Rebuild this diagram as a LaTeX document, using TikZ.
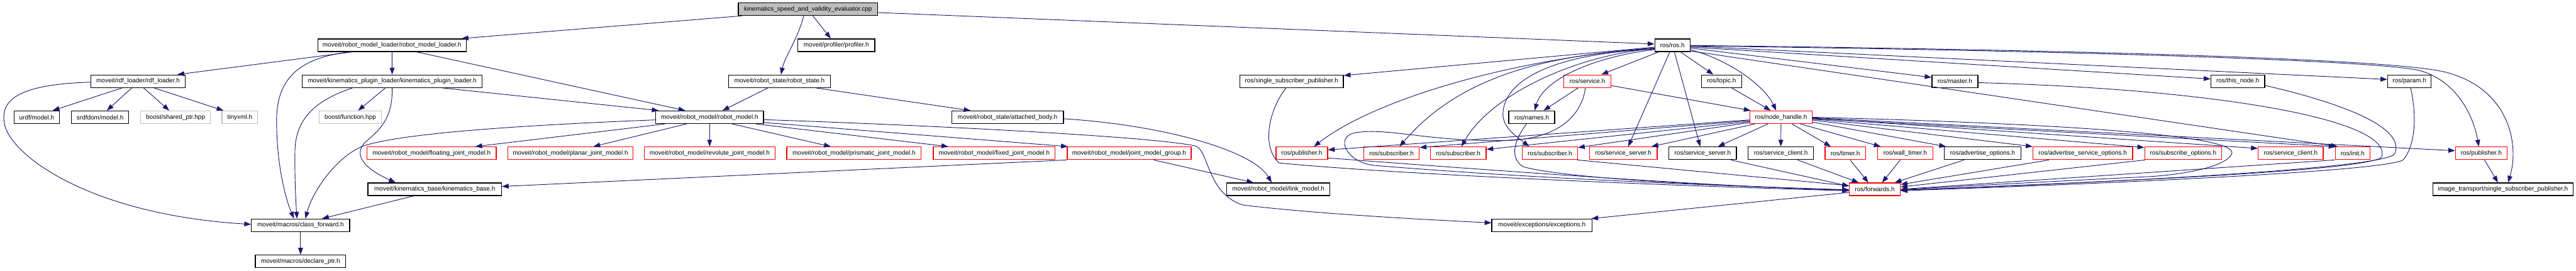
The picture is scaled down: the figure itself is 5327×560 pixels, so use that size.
\documentclass[tikz,border=0pt]{standalone}
\usepackage{fontspec}
\newfontfamily\dfont{Liberation Sans}
\usetikzlibrary{arrows.meta}
\definecolor{edgec}{HTML}{191970}
\definecolor{boxred}{HTML}{FF0000}
\definecolor{boxgray}{HTML}{BFBFBF}
\begin{document}
\begin{tikzpicture}[x=0.5pt,y=-0.5pt,
  nbox/.style={draw=black,fill=white,line width=0.85pt,minimum height=13pt,inner sep=0pt,font=\dfont\fontsize{6.5pt}{7pt}\selectfont,text=black},
  rnbox/.style={nbox,draw=boxred},
  gnbox/.style={nbox,draw=boxgray},
  tnbox/.style={nbox,fill=boxgray},
  dep/.style={draw=edgec,line width=0.6pt,-{Triangle[length=7pt,width=5pt]}}]
\useasboundingbox (0,0) rectangle (5327,560);
% row 0
\node[tnbox,minimum width=144pt] (top) at (1671,19) {kinematics\_speed\_and\_validity\_evaluator.cpp};
% row 1
\node[nbox,minimum width=153.5pt] (rml) at (810.5,93.5) {moveit/robot\_model\_loader/robot\_model\_loader.h};
\node[nbox,minimum width=79.5pt] (prof) at (1729.5,93.5) {moveit/profiler/profiler.h};
\node[nbox,minimum width=36.5pt] (rosh) at (3458.5,93.5) {ros/ros.h};
% row 2
\node[nbox,minimum width=97.5pt] (rdf) at (285.5,168) {moveit/rdf\_loader/rdf\_loader.h};
\node[nbox,minimum width=186pt] (kpl) at (811,168) {moveit/kinematics\_plugin\_loader/kinematics\_plugin\_loader.h};
\node[nbox,minimum width=105pt] (rstate) at (1612,168) {moveit/robot\_state/robot\_state.h};
\node[nbox,minimum width=107pt] (ssp) at (2671,168) {ros/single\_subscriber\_publisher.h};
\node[rnbox,minimum width=48.5pt] (service) at (3282.5,168) {ros/service.h};
\node[nbox,minimum width=41.75pt] (topic) at (3560,168) {ros/topic.h};
\node[nbox,minimum width=47.5pt] (master) at (4042.5,168) {ros/master.h};
\node[nbox,minimum width=55.5pt] (thisnode) at (4627.5,168) {ros/this\_node.h};
\node[nbox,minimum width=45pt] (param) at (4982.5,168) {ros/param.h};
% row 3
\node[nbox,minimum width=47pt] (urdf) at (76,242.5) {urdf/model.h};
\node[nbox,minimum width=59pt] (srdf) at (207,242.5) {srdfdom/model.h};
\node[gnbox,minimum width=72pt] (bsp) at (363,242.5) {boost/shared\_ptr.hpp};
\node[gnbox,minimum width=37pt] (tinyxml) at (496,242.5) {tinyxml.h};
\node[gnbox,minimum width=64.5pt] (bfun) at (724.5,242.5) {boost/function.hpp};
\node[nbox,minimum width=111.5pt] (rmodel) at (1467.5,242.5) {moveit/robot\_model/robot\_model.h};
\node[nbox,minimum width=115.5pt] (attached) at (2083.5,242.5) {moveit/robot\_state/attached\_body.h};
\node[nbox,minimum width=47.5pt] (names) at (3167.5,242.5) {ros/names.h};
\node[rnbox,minimum width=64pt] (nh) at (3683,242.5) {ros/node\_handle.h};
% row 4
\node[rnbox,minimum width=133.5pt] (floating) at (892.5,317) {moveit/robot\_model/floating\_joint\_model.h};
\node[rnbox,minimum width=129.5pt] (planar) at (1179.5,317) {moveit/robot\_model/planar\_joint\_model.h};
\node[rnbox,minimum width=135.5pt] (revolute) at (1467.5,317) {moveit/robot\_model/revolute\_joint\_model.h};
\node[rnbox,minimum width=139pt] (prismatic) at (1766,317) {moveit/robot\_model/prismatic\_joint\_model.h};
\node[rnbox,minimum width=126pt] (fixed) at (2056,317) {moveit/robot\_model/fixed\_joint\_model.h};
\node[rnbox,minimum width=128pt] (jmg) at (2335,317) {moveit/robot\_model/joint\_model\_group.h};
\node[rnbox,minimum width=53.25pt] (pub1) at (2692,317) {ros/publisher.h};
\node[rnbox,minimum width=57.5pt] (sub1) at (2877.5,317) {ros/subscriber.h};
\node[rnbox,minimum width=57.5pt] (sub2) at (3015.5,317) {ros/subscriber.h};
\node[rnbox,minimum width=57.25pt] (sub3) at (3205,317) {ros/subscriber.h};
\node[rnbox,minimum width=70pt] (ss1) at (3357,317) {ros/service\_server.h};
\node[nbox,minimum width=69.75pt] (ss2) at (3521,317) {ros/service\_server.h};
\node[nbox,minimum width=67.5pt] (sc1) at (3682.5,317) {ros/service\_client.h};
\node[rnbox,minimum width=42pt] (timer) at (3816,317) {ros/timer.h};
\node[rnbox,minimum width=57pt] (walltimer) at (3940,317) {ros/wall\_timer.h};
\node[nbox,minimum width=79pt] (advopt) at (4100,317) {ros/advertise\_options.h};
\node[rnbox,minimum width=103pt] (advsrvopt) at (4307,317) {ros/advertise\_service\_options.h};
\node[rnbox,minimum width=79.5pt] (subopt) at (4514.5,317) {ros/subscribe\_options.h};
\node[rnbox,minimum width=67.25pt] (sc2) at (4737,317) {ros/service\_client.h};
\node[rnbox,minimum width=35.75pt] (init) at (4865,317) {ros/init.h};
\node[rnbox,minimum width=53.25pt] (pub2) at (5131,317) {ros/publisher.h};
% row 5
\node[nbox,minimum width=138pt] (kbase) at (899,391.5) {moveit/kinematics\_base/kinematics\_base.h};
\node[nbox,minimum width=106.5pt] (link) at (2643.5,391.5) {moveit/robot\_model/link\_model.h};
\node[rnbox,minimum width=52.5pt] (fwd) at (3877,391.5) {ros/forwards.h};
\node[nbox,minimum width=145pt] (itssp) at (5176,391.5) {image\_transport/single\_subscriber\_publisher.h};
% row 6
\node[nbox,minimum width=101.5pt] (cfwd) at (621.5,466) {moveit/macros/class\_forward.h};
\node[nbox,minimum width=103.5pt] (exc) at (3188.5,466) {moveit/exceptions/exceptions.h};
% row 7
\node[nbox,minimum width=93.5pt] (decl) at (621.5,540.5) {moveit/macros/declare\_ptr.h};

% ---- edges: top
\draw[dep] ([xshift=-68.5pt]top.south) -- ([xshift=72pt]rml.north);
\draw[dep] ([xshift=-4.5pt]top.south) .. controls (1650,80) and (1622,120) .. ([xshift=1.5pt]rstate.north);
\draw[dep] ([xshift=5pt]top.south) -- ([xshift=-5.75pt]prof.north);
\draw[dep] ([yshift=-3.5pt]top.east) -- ([yshift=1.25pt]rosh.west);
% rml
\draw[dep] ([xshift=-40.75pt]rml.south) -- ([xshift=40.75pt]rdf.north);
\draw[dep] ([xshift=-42.25pt]rml.south) .. controls (600,120) and (572,180) .. (572,250) .. controls (572,340) and (590,410) .. ([xshift=-6.75pt]cfwd.north);
\draw[dep] (rml) -- (kpl);
\draw[dep] ([xshift=25.25pt]rml.south) -- ([xshift=-25.25pt]rmodel.north);
% rdf
\draw[dep] ([xshift=-16.5pt]rdf.south) -- ([xshift=16.5pt]urdf.north);
\draw[dep] ([xshift=-6.5pt]rdf.south) -- ([xshift=7pt]srdf.north);
\draw[dep] ([xshift=5.75pt]rdf.south) -- ([xshift=-6.5pt]bsp.north);
\draw[dep] ([xshift=16.5pt]rdf.south) -- ([xshift=-17pt]tinyxml.north);
\draw[dep] ([yshift=-1pt]rdf.west) .. controls (20,175) and (0,215) .. (10,260) .. controls (30,330) and (200,445) .. ([yshift=1pt]cfwd.west);
% kpl
\draw[dep] ([xshift=-41pt]kpl.south) .. controls (660,205) and (612,240) .. (610,310) .. controls (609,370) and (612,420) .. ([xshift=-3.75pt]cfwd.north);
\draw[dep] ([xshift=-7pt]kpl.south) -- ([xshift=8pt]bfun.north);
\draw[dep] (kpl.south) .. controls (812,240) and (790,265) .. (760,290) .. controls (735,310) and (735,340) .. ([xshift=-40.5pt]kbase.north);
\draw[dep] ([xshift=51.7pt]kpl.south) -- ([xshift=-52.75pt]rmodel.north);
% rstate
\draw[dep] ([xshift=-12pt]rstate.south) -- ([xshift=13.25pt]rmodel.north);
\draw[dep] ([xshift=37.3pt]rstate.south) -- ([xshift=-38.25pt]attached.north);
% rmodel
\draw[dep] ([yshift=-2.75pt]rmodel.west) .. controls (1100,258) and (820,275) .. (746,304) .. controls (690,330) and (645,400) .. ([xshift=5pt]cfwd.north);
\draw[dep] ([xshift=-46.25pt]rmodel.south) -- ([xshift=45.25pt]floating.north);
\draw[dep] ([xshift=-24pt]rmodel.south) -- ([xshift=23.75pt]planar.north);
\draw[dep] (rmodel) -- (revolute);
\draw[dep] ([xshift=23.25pt]rmodel.south) -- ([xshift=-24pt]prismatic.north);
\draw[dep] ([xshift=47.75pt]rmodel.south) -- ([xshift=-47.5pt]fixed.north);
\draw[dep] ([yshift=-5.5pt]rmodel.east) -- ([xshift=1pt]jmg.north west);
\draw[dep] ([yshift=-2.5pt]rmodel.east) .. controls (2000,262) and (2400,285) .. (2472,302) .. controls (2500,310) and (2495,400) .. (2570,424) .. controls (2700,440) and (2900,452) .. ([yshift=2.5pt]exc.west);
% jmg, attached, kbase, cfwd
\draw[dep] (jmg.south west) -- ([yshift=2.9pt]kbase.east);
\draw[dep] ([xshift=25.35pt]jmg.south) -- ([xshift=-25.75pt]link.north);
\draw[dep] ([yshift=-1.6pt]attached.east) .. controls (2400,258) and (2590,310) .. ([xshift=-6.9pt]link.north);
\draw[dep] ([xshift=-22pt]kbase.south) -- ([xshift=22.25pt]cfwd.north);
\draw[dep] (cfwd) -- (decl);
% ros.h
\draw[dep] ([yshift=-2pt]rosh.west) -- ([yshift=-1pt]ssp.north east);
\draw[dep] ([yshift=-3pt]rosh.west) .. controls (3150,118) and (2850,200) .. ([xshift=12.5pt]pub1.north);
\draw[dep] ([yshift=-3.5pt]rosh.west) .. controls (3150,115) and (3000,180) .. ([xshift=8.25pt]sub1.north);
\draw[dep] ([yshift=-3.5pt]rosh.west) .. controls (3250,115) and (3080,200) .. ([xshift=3.25pt]sub2.north);
\draw[dep] ([yshift=-4pt]rosh.west) .. controls (3200,112) and (3110,170) .. (3108,235) .. controls (3107,265) and (3140,285) .. ([xshift=-21.5pt]sub3.north);
\draw[dep] ([yshift=-4.5pt]rosh.west) .. controls (3280,120) and (3190,170) .. ([xshift=3pt]names.north);
\draw[dep] ([xshift=-14.25pt]rosh.south) -- ([xshift=14.5pt]service.north);
\draw[dep] ([xshift=-2.75pt]rosh.south) -- ([xshift=5pt]ss1.north);
\draw[dep] ([xshift=2pt]rosh.south) -- ([xshift=-2.5pt]ss2.north);
\draw[dep] ([xshift=8.25pt]rosh.south) -- ([xshift=-8.5pt]topic.north);
\draw[dep] ([yshift=-4.75pt]rosh.east) .. controls (3580,125) and (3650,180) .. ([xshift=-5pt]nh.north);
\draw[dep] ([yshift=-3pt]rosh.east) -- ([yshift=4pt]master.west);
\draw[dep] ([yshift=-2pt]rosh.east) -- ([yshift=2.35pt]thisnode.west);
\draw[dep] ([yshift=-1pt]rosh.east) -- ([yshift=1.85pt]param.west);
\draw[dep] ([yshift=-0.75pt]rosh.east) .. controls (4300,105) and (4900,125) .. (5000,145) .. controls (5080,165) and (5115,240) .. ([xshift=-2.5pt]pub2.north);
\draw[dep] ([yshift=-0.25pt]rosh.east) .. controls (4300,103) and (4960,122) .. (5060,150) .. controls (5190,185) and (5210,300) .. ([xshift=5.25pt]itssp.north);
\draw[dep] ([yshift=-6pt]rosh.east) -- ([xshift=3pt]init.north west);
% service, topic
\draw[dep] ([yshift=-4.5pt]service.east) -- ([xshift=1pt]nh.north west);
\draw[dep] ([xshift=-9.5pt]service.south) -- ([xshift=12.25pt]names.north);
\draw[dep] ([xshift=-2pt]service.south) .. controls (3272,230) and (3235,282) .. (3130,290) .. controls (2960,296) and (2870,262) .. (2800,275) .. controls (2760,285) and (2785,335) .. (2840,342) .. controls (3200,372) and (3600,385) .. ([yshift=-1pt]fwd.west);
\draw[dep] ([xshift=10.5pt]topic.south) -- ([xshift=-10.65pt]nh.north);
% node_handle
\draw[dep] ([yshift=-2.75pt]nh.west) -- ([yshift=3.5pt]pub1.east);
\draw[dep] ([yshift=-3.5pt]nh.west) -- ([yshift=-1pt]sub1.north east);
\draw[dep] ([yshift=-4.5pt]nh.west) -- ([yshift=4pt]sub2.east);
\draw[dep] ([yshift=-5.5pt]nh.west) -- ([yshift=-1pt]sub3.north east);
\draw[dep] ([xshift=-27pt]nh.south) -- ([xshift=29pt]ss1.north);
\draw[dep] ([xshift=-13.5pt]nh.south) -- ([xshift=15.8pt]ss2.north);
\draw[dep] (nh) -- (sc1);
\draw[dep] ([xshift=11.35pt]nh.south) -- ([xshift=-15pt]timer.north);
\draw[dep] ([xshift=20pt]nh.south) -- ([xshift=-25.5pt]walltimer.north);
\draw[dep] ([yshift=-5pt]nh.east) -- ([xshift=2pt]advopt.north west);
\draw[dep] ([yshift=-3pt]nh.east) -- (advsrvopt.north west);
\draw[dep] ([yshift=-2pt]nh.east) -- ([yshift=-1pt]subopt.north west);
\draw[dep] ([yshift=-1pt]nh.east) -- ([yshift=5pt]sc2.west);
\draw[dep] ([yshift=-1.5pt]nh.east) -- ([xshift=0.5pt]init.north west);
\draw[dep] ([yshift=-0.5pt]nh.east) -- ([yshift=2.65pt]pub2.west);
\draw[dep] (nh.east) .. controls (4350,258) and (4640,285) .. (4614,320) .. controls (4600,345) and (4520,360) .. (4450,365) .. controls (4250,375) and (4000,388) .. ([yshift=-0.5pt]fwd.east);
% into forwards
\draw[dep] ([xshift=29pt]ss2.south) -- ([yshift=3.25pt]fwd.west);
\draw[dep] ([xshift=17.25pt]sc1.south) -- ([xshift=-16.75pt]fwd.north);
\draw[dep] ([xshift=5pt]timer.south) -- ([xshift=-6.7pt]fwd.north);
\draw[dep] ([xshift=-5.2pt]walltimer.south) -- ([xshift=7.5pt]fwd.north);
\draw[dep] ([xshift=-19.2pt]advopt.south) -- ([xshift=20.5pt]fwd.north);
\draw[dep] ([xshift=-35pt]advsrvopt.south) -- ([yshift=-2pt]fwd.north east);
\draw[dep] ([xshift=1pt]subopt.south west) -- ([yshift=2.4pt]fwd.east);
\draw[dep] (init.south west) -- (fwd.east);
\draw[dep] ([yshift=-1.5pt]master.east) .. controls (4600,185) and (4950,250) .. (4925,325) .. controls (4895,355) and (4300,378) .. ([yshift=-1pt]fwd.east);
\draw[dep] ([yshift=-4.35pt]thisnode.east) .. controls (4850,215) and (4975,265) .. (4952,318) .. controls (4935,350) and (4300,380) .. ([yshift=-1pt]fwd.east);
\draw[dep] ([xshift=1.25pt]param.south) .. controls (4998,240) and (4995,300) .. (4970,330) .. controls (4945,355) and (4300,382) .. ([yshift=-1.5pt]fwd.east);
\draw[dep] ([xshift=-1pt]sub3.south east) -- ([yshift=3.75pt]fwd.west);
\draw[dep] ([yshift=2pt]pub1.south east) .. controls (2900,338) and (3500,385) .. ([yshift=-1pt]fwd.west);
\draw[dep] ([xshift=-5.65pt]ssp.south) .. controls (2628,220) and (2605,300) .. (2645,337) .. controls (2900,362) and (3500,386) .. ([yshift=-1.5pt]fwd.west);
\draw[dep] ([xshift=-5.45pt]names.south) .. controls (3135,285) and (3118,325) .. (3150,345) .. controls (3250,372) and (3600,386) .. ([yshift=-0.5pt]fwd.west);
% bottom
\draw[dep] ([yshift=-3.25pt]fwd.west) -- ([xshift=-1pt]exc.north east);
\draw[dep] ([xshift=3.4pt]pub2.south) -- ([xshift=-5.2pt]itssp.north);
\end{tikzpicture}
\end{document}
